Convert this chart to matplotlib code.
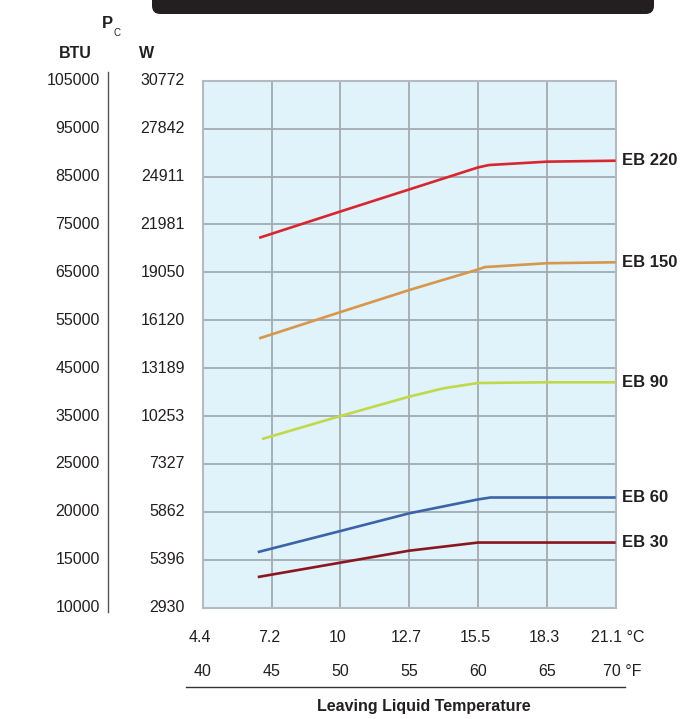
import numpy as np
import matplotlib
matplotlib.use("Agg")
import matplotlib.pyplot as plt
from matplotlib.patches import FancyBboxPatch
from matplotlib.lines import Line2D

plt.rcParams['font.family'] = ['Liberation Sans', 'DejaVu Sans']

# ---- data ----
btu_ticks = [10000, 15000, 20000, 25000, 35000, 45000, 55000, 65000, 75000, 85000, 95000, 105000]
w_ticks = [2930, 5396, 5862, 7327, 10253, 13189, 16120, 19050, 21981, 24911, 27842, 30772]
temp_f = [40, 45, 50, 55, 60, 65, 70]
temp_c = ['4.4', '7.2', '10', '12.7', '15.5', '18.3', '21.1 °C']
temp_f_labels = ['40', '45', '50', '55', '60', '65', '70 °F']

eb220_x = [44.1, 50, 55, 60, 60.8, 65, 70]
eb220_y = [72200, 77700, 82300, 86900, 87400, 88100, 88300]
eb150_x = [44.1, 50, 55, 60, 60.5, 65, 70]
eb150_y = [51200, 56700, 61300, 65600, 66100, 66900, 67100]
eb90_x = [44.3, 50, 55, 57.5, 60, 65, 70]
eb90_y = [30200, 35000, 39050, 40800, 41900, 42050, 42050]
eb60_x = [44.0, 50, 55, 60, 60.9, 65, 70]
eb60_y = [15800, 18000, 19850, 21300, 21500, 21500, 21500]
eb30_x = [44.0, 50, 55, 60, 65, 70]
eb30_y = [13200, 14700, 15950, 16800, 16800, 16800]

series = [
    ("EB 220", eb220_x, eb220_y, "#d8262f"),
    ("EB 150", eb150_x, eb150_y, "#d6964c"),
    ("EB 90", eb90_x, eb90_y, "#bfd94a"),
    ("EB 60", eb60_x, eb60_y, "#3b64a8"),
    ("EB 30", eb30_x, eb30_y, "#8a1620"),
]

# ---- figure ----
W, H = 686, 719
fig = plt.figure(figsize=(W / 100, H / 100), dpi=100)

def fx(px):
    return px / W

def fy(py):
    return 1 - py / H

left, right, top, bottom = 202.7, 615.7, 80.7, 607.7
ax = fig.add_axes([fx(left), fy(bottom), fx(right) - fx(left), fy(top) - fy(bottom)])

# piecewise y scale: ticks evenly spaced
idx = np.arange(len(btu_ticks), dtype=float)
bt = np.array(btu_ticks, dtype=float)
ax.set_yscale('function', functions=(lambda v: np.interp(v, bt, idx),
                                     lambda i: np.interp(i, idx, bt)))
ax.set_ylim(btu_ticks[0], btu_ticks[-1])
ax.set_xlim(temp_f[0], temp_f[-1])
ax.set_facecolor("#e0f2fa")
ax.set_xticks(temp_f)
ax.set_yticks(btu_ticks)
ax.tick_params(length=0, labelleft=False, labelbottom=False)
ax.grid(True, color="#a4aaaf", lw=1.3)
ax.set_axisbelow(True)
for s in ax.spines.values():
    s.set_color("#b4babf")
    s.set_linewidth(1.5)

for name, xs, ys, col in series:
    ax.plot(xs, ys, color=col, lw=1.9, solid_capstyle='butt', zorder=3)
    ax.text((622 - left) / (right - left), ys[-1], name, transform=ax.get_yaxis_transform(),
            ha='left', va='center', fontsize=12, fontweight='bold', color="#231f20")

# left axis labels
ytr = ax.get_yaxis_transform()
for b, w in zip(btu_ticks, w_ticks):
    ax.text((100 - left) / (right - left), b, str(b), transform=ytr, ha='right', va='center',
            fontsize=11.5, color="#231f20")
    ax.text((185 - left) / (right - left), b, str(w), transform=ytr, ha='right', va='center',
            fontsize=11.5, color="#231f20")
fig.add_artist(Line2D([fx(108), fx(108)], [fy(72), fy(612)], color="#555555", lw=1.0))

fig.text(fx(75), fy(53), "BTU", ha='center', va='center', fontsize=11.5, fontweight='bold', color="#231f20")
fig.text(fx(147), fy(53), "W", ha='center', va='center', fontsize=11.5, fontweight='bold', color="#231f20")
fig.text(fx(107), fy(24), "P", ha='center', va='center', fontsize=12, fontweight='bold', color="#231f20")
fig.text(fx(117), fy(33), "C", ha='center', va='center', fontsize=7, color="#231f20")

# bottom axis labels
xtr = ax.get_xaxis_transform()
for f, c, fl in zip(temp_f, temp_c, temp_f_labels):
    dc = -0.2 if f < 70 else 0.15
    df = 0 if f < 70 else 0.45
    ax.text(f + dc, (bottom - 638) / (bottom - top), c, transform=xtr, ha='center', va='center',
            fontsize=11.5, color="#231f20")
    ax.text(f + df, (bottom - 671) / (bottom - top), fl, transform=xtr, ha='center', va='center',
            fontsize=11.5, color="#231f20")
fig.add_artist(Line2D([fx(186), fx(625)], [fy(687), fy(687)], color="#333333", lw=1.0))
fig.text(fx(424), fy(706), "Leaving Liquid Temperature", ha='center', va='center',
         fontsize=11.5, fontweight='bold', color="#231f20")

# black header bar
fig.add_artist(FancyBboxPatch((fx(152), fy(14)), fx(654) - fx(152), 0.05,
                              boxstyle="round,pad=0,rounding_size=0.012",
                              transform=fig.transFigure, facecolor="#231f20",
                              edgecolor="none", mutation_aspect=W / H))

fig.savefig("out.png", dpi=100)
